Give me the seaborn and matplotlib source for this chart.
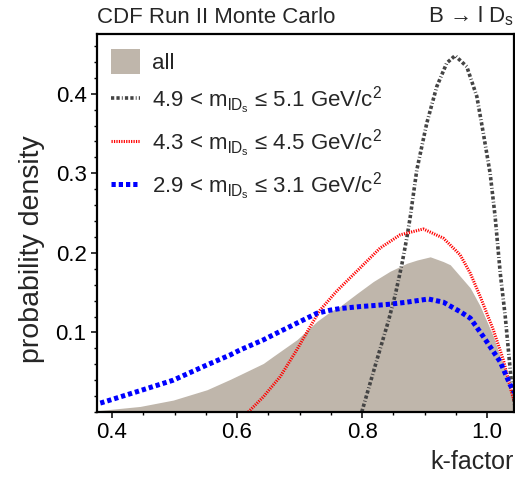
import matplotlib
matplotlib.use("Agg")
import seaborn as sns
from matplotlib import pyplot as plt
from matplotlib.ticker import MultipleLocator

# k-factor distributions, values
all_k = [0.370, 0.381, 0.445, 0.498, 0.552, 0.589, 0.605, 0.642, 0.658, 0.696, 0.728, 0.749, 0.765, 0.792,
         0.818, 0.845, 0.872, 0.888, 0.909, 0.930, 0.941, 0.962, 0.973, 0.989, 1.010, 1.026, 1.040, 1.045]
all_pdf = [0.001, 0.002, 0.007, 0.015, 0.028, 0.041, 0.047, 0.061, 0.070, 0.091, 0.114, 0.126, 0.133, 0.149,
           0.164, 0.177, 0.187, 0.191, 0.195, 0.189, 0.185, 0.166, 0.156, 0.133, 0.095, 0.057, 0.019, 0.005]

hi_k = [0.7995, 0.8235, 0.842, 0.853, 0.8635, 0.8715, 0.877, 0.8875, 0.9035, 0.9195, 0.9355, 0.9488,
        0.9675, 0.9835, 0.994, 1.0048, 1.0128, 1.021, 1.029, 1.034, 1.0395, 1.046]
hi_pdf = [0.0, 0.065, 0.114, 0.147, 0.185, 0.2185, 0.245, 0.304, 0.363, 0.409, 0.4386, 0.4478,
          0.434, 0.3966, 0.350, 0.300, 0.2457, 0.1745, 0.120, 0.078, 0.032, 0.0]

mid_k = [0.618, 0.642, 0.669, 0.6955, 0.7168, 0.7328, 0.7595, 0.7968, 0.8288, 0.8608, 0.898, 0.930,
         0.9568, 0.973, 0.989, 1.010, 1.026, 1.0395, 1.046]
mid_pdf = [0.0, 0.019, 0.0444, 0.078, 0.107, 0.128, 0.152, 0.181, 0.206, 0.2226, 0.230, 0.2185,
           0.1975, 0.1745, 0.145, 0.103, 0.0654, 0.0235, 0.008]

lo_k = [0.370, 0.3835, 0.445, 0.498, 0.5515, 0.589, 0.605, 0.642, 0.658, 0.6955, 0.7275, 0.749, 0.7648,
        0.797, 0.818, 0.845, 0.8715, 0.906, 0.930, 0.957, 0.973, 0.994, 1.021, 1.037, 1.046]
lo_pdf = [0.009, 0.0117, 0.0268, 0.040, 0.059, 0.0717, 0.078, 0.0906, 0.097, 0.1116, 0.124, 0.128, 0.130,
          0.1325, 0.1337, 0.1355, 0.138, 0.142, 0.138, 0.126, 0.118, 0.0947, 0.063, 0.034, 0.022]

labels = ["all",
          r"4.9 < m$_{\mathregular{lD}_{\mathregular{s}}}$ ≤ 5.1 GeV/c$^{\mathregular{2}}$",
          r"4.3 < m$_{\mathregular{lD}_{\mathregular{s}}}$ ≤ 4.5 GeV/c$^{\mathregular{2}}$",
          r"2.9 < m$_{\mathregular{lD}_{\mathregular{s}}}$ ≤ 3.1 GeV/c$^{\mathregular{2}}$"]

sns.set_theme(style="ticks")
plt.rcParams["font.family"] = ["Liberation Sans", "DejaVu Sans"]
plt.rcParams["mathtext.fontset"] = "custom"
plt.rcParams["mathtext.rm"] = "Liberation Sans"
plt.rcParams["mathtext.it"] = "Liberation Sans:italic"
plt.rcParams["mathtext.bf"] = "Liberation Sans:bold"

fig = plt.figure(figsize=(5.15, 4.78), dpi=100)
ax = fig.add_axes([97 / 515, 66 / 478, 417 / 515, 378 / 478])

ax.fill_between(all_k, all_pdf, color="#bfb6ab", lw=0, label=labels[0])
sns.lineplot(x=hi_k, y=hi_pdf, ax=ax, color="#444444", lw=2.6,
             linestyle=(0, (0.9, 0.6, 0.9, 0.6, 0.25, 0.6)), label=labels[1])
sns.lineplot(x=mid_k, y=mid_pdf, ax=ax, color="red", lw=2.2,
             linestyle=(0, (0.4, 0.4)), label=labels[2])
sns.lineplot(x=lo_k, y=lo_pdf, ax=ax, color="blue", lw=3.6,
             linestyle=(0, (0.85, 0.6)), label=labels[3])

ax.set_xlim(0.376, 1.043)
ax.set_ylim(0, 0.475)
ax.set_xticks([0.4, 0.6, 0.8, 1.0])
ax.set_yticks([0.1, 0.2, 0.3, 0.4])
ax.xaxis.set_minor_locator(MultipleLocator(0.05))
ax.yaxis.set_minor_locator(MultipleLocator(0.02))
ax.tick_params(which="major", direction="out", length=4.5, width=1.1, labelsize=16, pad=3,
               color="black", labelcolor="black")
ax.tick_params(which="minor", direction="out", length=2.5, width=1, color="black")
for s in ax.spines.values():
    s.set_linewidth(1.6)
    s.set_color("black")

ax.legend(loc="upper left", bbox_to_anchor=(0.033, 0.96), frameon=False, fontsize=16,
          handlelength=1.3, handleheight=1.35, handletextpad=0.55, labelspacing=0.5,
          borderpad=0, borderaxespad=0)

ax.set_title("CDF Run II Monte Carlo", loc="left", fontsize=16, pad=8)
ax.set_title(r"B → l D$_{\mathregular{s}}$", loc="right", fontsize=16, pad=8)

ax.set_ylabel("probability density", fontsize=20.5)
ax.yaxis.set_label_coords(-0.125, 0.43)
ax.set_xlabel("k-factor", fontsize=18, loc="right")
ax.xaxis.set_label_coords(1.0, -0.10)

fig.savefig("out.png", dpi=100)
